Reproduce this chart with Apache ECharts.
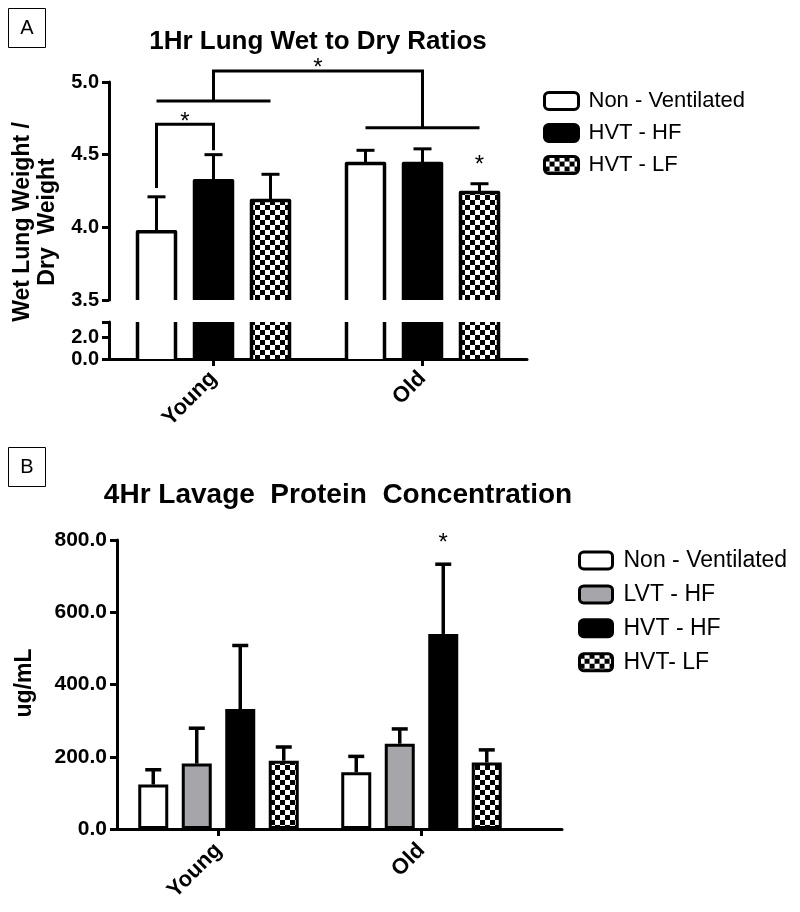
<!DOCTYPE html>
<html><head><meta charset="utf-8">
<script src="https://cdn.jsdelivr.net/npm/echarts@6/dist/echarts.min.js"></script>
<style>html,body{margin:0;padding:0;background:#fff}#c{width:800px;height:912px}</style>
</head><body><div id="c"></div>
<script>
const categories = ['Young', 'Old'];

// Panel A: 1 h lung wet/dry ratio (mean, SEM)
const namesA = ['Non - Ventilated', 'HVT - HF', 'HVT - LF'];
const meanA_nonVent = [3.97, 4.44];
const semA_nonVent = [0.24, 0.09];
const meanA_hvtHF = [4.32, 4.44];
const semA_hvtHF = [0.18, 0.10];
const meanA_hvtLF = [4.185, 4.24];
const semA_hvtLF = [0.18, 0.06];
const axisA_upper = {min: 3.5, max: 5.0, interval: 0.5};
const axisA_lower = {min: 0, max: 3.4, interval: 2};
const ticksA_lower = [0, 2];

// Panel B: 4 h lavage protein (mean, SEM)
const namesB = ['Non - Ventilated', 'LVT - HF', 'HVT - HF', 'HVT- LF'];
const meanB_nonVent = [123, 157];
const semB_nonVent = [41, 44];
const meanB_lvtHF = [181, 236];
const semB_lvtHF = [98, 41];
const meanB_hvtHF = [332, 540];
const semB_hvtHF = [176, 193];
const meanB_hvtLF = [189, 184];
const semB_hvtLF = [38, 35];
const axisB = {min: 0, max: 800, interval: 200};

// significance annotations: points as [category, barIndex, value]
const bracketsA = [
  [['Young', 0, 4.27], ['Young', 0, 4.71], ['Young', 1, 4.71], ['Young', 1, 4.53]],
  [['Young', 0, 4.87], ['Young', 2, 4.87]],
  [['Old', 0, 4.685], ['Old', 2, 4.685]],
  [['Young', 1, 4.87], ['Young', 1, 5.075], ['Old', 1, 5.075], ['Old', 1, 4.685]]
];
const starsA = [
  [['Young', 0], ['Young', 1], 4.76],
  [['Young', 1], ['Old', 1], 5.13],
  [['Old', 2], ['Old', 2], 4.46]
];
const starsB = [
  [['Old', 2], ['Old', 2], 804]
];

// ---------- rendering ----------
const FONT = "'Liberation Sans', Arial, Helvetica, sans-serif";
const BAR_A = {n: 3, w: 38, gap: 0.5};
const BAR_B = {n: 4, w: 30, gap: 0.45};
const STAR_SHIFT = 5;
function off(cfg, b) { return (b - (cfg.n - 1) / 2) * cfg.w * (1 + cfg.gap); }
function ci(c) { return categories.indexOf(c); }

const checkerCanvas = (function () {
  const c = document.createElement('canvas');
  c.width = 10; c.height = 10;
  const g = c.getContext('2d');
  g.fillStyle = '#fff'; g.fillRect(0, 0, 10, 10);
  g.fillStyle = '#000'; g.fillRect(0, 0, 5, 5); g.fillRect(5, 5, 5, 5);
  return c;
})();
const checker = {image: checkerCanvas, repeat: 'repeat'};

const meansA = [meanA_nonVent, meanA_hvtHF, meanA_hvtLF];
const semsA = [semA_nonVent, semA_hvtHF, semA_hvtLF];
const fillsA = ['#ffffff', '#000000', checker];
const meansB = [meanB_nonVent, meanB_lvtHF, meanB_hvtHF, meanB_hvtLF];
const semsB = [semB_nonVent, semB_lvtHF, semB_hvtHF, semB_hvtLF];
const fillsB = ['#ffffff', '#a6a6aa', '#000000', checker];

function outlineRender(cfg, lw) {
  return function (params, api) {
    const c = api.value(0), m = api.value(1), b = api.value(2);
    const top = api.coord([c, m]);
    const base = api.coord([c, 0]);
    const cx = top[0] + off(cfg, b);
    const hw = cfg.w / 2;
    return {type: 'polyline', shape: {points: [[cx - hw, base[1] + 10], [cx - hw, top[1]], [cx + hw, top[1]], [cx + hw, base[1] + 10]]},
      style: {stroke: '#000', lineWidth: lw, fill: null, lineJoin: 'round'}};
  };
}
function errRender(cfg, cap, lw) {
  return function (params, api) {
    const c = api.value(0), m = api.value(1), e = api.value(2), b = api.value(3);
    const p0 = api.coord([c, m]), p1 = api.coord([c, m + e]);
    const x = p0[0] + off(cfg, b);
    return {type: 'group', children: [
      {type: 'line', shape: {x1: x, y1: p0[1], x2: x, y2: p1[1]}, style: {stroke: '#000', lineWidth: lw}},
      {type: 'line', shape: {x1: x - cap / 2, y1: p1[1], x2: x + cap / 2, y2: p1[1]}, style: {stroke: '#000', lineWidth: lw}}
    ]};
  };
}
function bracketRender(params, api) {
  const pts = bracketsA[api.value(2)].map(function (p) {
    const q = api.coord([ci(p[0]), p[2]]);
    return [q[0] + off(BAR_A, p[1]), q[1]];
  });
  return {type: 'polyline', shape: {points: pts}, style: {stroke: '#000', lineWidth: 3, fill: null}};
}
function starRender(cfg, list) {
  return function (params, api) {
    const s = list[api.value(2)];
    const a = api.coord([ci(s[0][0]), s[2]]);
    const b = api.coord([ci(s[1][0]), s[2]]);
    const x = (a[0] + off(cfg, s[0][1]) + b[0] + off(cfg, s[1][1])) / 2;
    return {type: 'text', style: {x: x, y: a[1] + STAR_SHIFT, text: '*', fontSize: 24, fontFamily: FONT, fill: '#000', align: 'center', verticalAlign: 'middle'}};
  };
}

const axisLineStyle = {show: true, lineStyle: {color: '#000', width: 3}};
const tickStyle = {show: true, length: 7, lineStyle: {color: '#000', width: 3}};
function catAxis(grid, show, margin) {
  return {type: 'category', gridIndex: grid, data: categories, show: show,
    axisLine: axisLineStyle, axisTick: Object.assign({alignWithLabel: true}, tickStyle),
    axisLabel: {rotate: 45, interval: 0, margin: margin, color: '#000', fontSize: 22, fontWeight: 'bold', fontFamily: FONT},
    splitLine: {show: false}};
}
function valAxis(grid, cfg, fs, fmt) {
  return {type: 'value', gridIndex: grid, min: cfg.min, max: cfg.max, interval: cfg.interval,
    axisLine: axisLineStyle, axisTick: tickStyle, splitLine: {show: false},
    axisLabel: {margin: 10, color: '#000', fontSize: fs, fontWeight: 'bold', fontFamily: FONT, formatter: fmt}};
}

const series = [];
[0, 1].forEach(function (g) {
  namesA.forEach(function (nm, i) {
    series.push({type: 'bar', name: nm, xAxisIndex: g, yAxisIndex: g, data: meansA[i],
      barWidth: BAR_A.w, barGap: (BAR_A.gap * 100) + '%', itemStyle: {color: fillsA[i], borderWidth: 0}, silent: true});
  });
  const od = [];
  meansA.forEach(function (arr, i) { arr.forEach(function (v, c) { od.push([c, v, i]); }); });
  series.push({type: 'custom', xAxisIndex: g, yAxisIndex: g, clip: true, data: od, encode: {x: 0, y: 1},
    renderItem: outlineRender(BAR_A, 3.5), silent: true, z: 3});
});
const edA = [];
meansA.forEach(function (arr, i) { arr.forEach(function (v, c) { edA.push([c, v, semsA[i][c], i]); }); });
series.push({type: 'custom', xAxisIndex: 0, yAxisIndex: 0, data: edA, encode: {x: 0, y: 1}, renderItem: errRender(BAR_A, 18, 3), z: 4, silent: true});
series.push({type: 'custom', xAxisIndex: 0, yAxisIndex: 0, clip: false, data: bracketsA.map(function (b, i) { return [0, 4.5, i]; }), encode: {x: 0, y: 1}, renderItem: bracketRender, z: 4, silent: true});
series.push({type: 'custom', xAxisIndex: 0, yAxisIndex: 0, clip: false, data: starsA.map(function (b, i) { return [0, 4.5, i]; }), encode: {x: 0, y: 1}, renderItem: starRender(BAR_A, starsA), z: 4, silent: true});

namesB.forEach(function (nm, i) {
  series.push({type: 'bar', name: nm, xAxisIndex: 2, yAxisIndex: 2, data: meansB[i],
    barWidth: BAR_B.w, barGap: (BAR_B.gap * 100) + '%', itemStyle: {color: fillsB[i], borderColor: '#000', borderWidth: 3}, silent: true});
});
const edB = [];
meansB.forEach(function (arr, i) { arr.forEach(function (v, c) { edB.push([c, v, semsB[i][c], i]); }); });
series.push({type: 'custom', xAxisIndex: 2, yAxisIndex: 2, data: edB, encode: {x: 0, y: 1}, renderItem: errRender(BAR_B, 16, 3.5), z: 4, silent: true});
series.push({type: 'custom', xAxisIndex: 2, yAxisIndex: 2, clip: false, data: starsB.map(function (b, i) { return [0, 400, i]; }), encode: {x: 0, y: 1}, renderItem: starRender(BAR_B, starsB), z: 4, silent: true});

const legendBase = {orient: 'vertical', icon: 'roundRect', selectedMode: false,
  itemStyle: {borderColor: '#000', borderWidth: 3}};

const option = {
  animation: false,
  backgroundColor: '#fff',
  grid: [
    {left: 109, top: 82, width: 418, height: 218},
    {left: 109, top: 322, width: 418, height: 37},
    {left: 117, top: 540, width: 406, height: 289},
    {left: 117, top: 540, width: 445, height: 289}
  ],
  xAxis: [
    catAxis(0, false, 16),
    catAxis(1, true, 16),
    catAxis(2, true, 18),
    {type: 'value', gridIndex: 3, min: 0, max: 1, axisLine: axisLineStyle, axisTick: {show: false}, axisLabel: {show: false}, splitLine: {show: false}}
  ],
  yAxis: [
    valAxis(0, axisA_upper, 20, function (v) { return v.toFixed(1); }),
    valAxis(1, axisA_lower, 20, function (v) { return ticksA_lower.indexOf(v) >= 0 ? v.toFixed(1) : ''; }),
    valAxis(2, axisB, 21, function (v) { return v.toFixed(1); }),
    {type: 'value', gridIndex: 3, show: false, min: 0, max: 1}
  ],
  legend: [
    Object.assign({}, legendBase, {data: namesA, left: 538, top: 85, itemWidth: 34, itemHeight: 17, itemGap: 10,
      textStyle: {fontSize: 22, fontFamily: FONT, color: '#000', padding: [0, 0, 0, 5], lineHeight: 17}}),
    Object.assign({}, legendBase, {data: namesB, left: 573, top: 544, itemWidth: 33, itemHeight: 17, itemGap: 10.9,
      textStyle: {fontSize: 23, fontFamily: FONT, color: '#000', padding: [0, 0, 0, 6], lineHeight: 17}})
  ],
  graphic: [
    {type: 'rect', shape: {x: 8.5, y: 8.5, width: 37, height: 39}, style: {fill: 'none', stroke: '#000', lineWidth: 1}},
    {type: 'text', x: 27, y: 28, style: {text: 'A', font: '20px ' + FONT, fill: '#000', align: 'center', verticalAlign: 'middle'}},
    {type: 'text', x: 318, y: 42, style: {text: '1Hr Lung Wet to Dry Ratios', font: 'bold 26px ' + FONT, fill: '#000', align: 'center', verticalAlign: 'middle'}},
    {type: 'text', x: 35, y: 222, rotation: Math.PI / 2, style: {text: 'Wet Lung Weight /\nDry  Weight', font: 'bold 23px ' + FONT, lineHeight: 25, fill: '#000', align: 'center', verticalAlign: 'middle'}},
    {type: 'rect', shape: {x: 8.5, y: 447.5, width: 37, height: 39}, style: {fill: 'none', stroke: '#000', lineWidth: 1}},
    {type: 'text', x: 27, y: 467, style: {text: 'B', font: '20px ' + FONT, fill: '#000', align: 'center', verticalAlign: 'middle'}},
    {type: 'text', x: 338, y: 495, style: {text: '4Hr Lavage  Protein  Concentration', font: 'bold 28px ' + FONT, fill: '#000', align: 'center', verticalAlign: 'middle'}},
    {type: 'text', x: 25, y: 683, rotation: Math.PI / 2, style: {text: 'ug/mL', font: 'bold 23px ' + FONT, fill: '#000', align: 'center', verticalAlign: 'middle'}}
  ],
  series: series
};

const chart = echarts.init(document.getElementById('c'), null, {renderer: 'canvas'});
chart.setOption(option);
</script>
</body></html>
